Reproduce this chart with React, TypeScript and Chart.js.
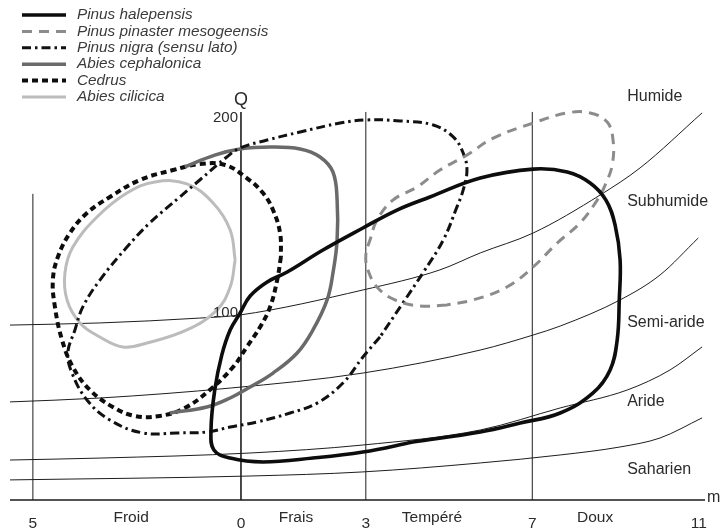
import React, { useEffect, useRef } from 'react';
import { Chart, registerables } from 'chart.js';

Chart.register(...registerables);

// ---- axes / ticks ----
const xTickValues = [-5, 0, 3, 7, 11];
const xTickLabels = ['5', '0', '3', '7', '11'];
const thermalZones = ['Froid', 'Frais', 'Tempéré', 'Doux'];
const thermalZoneCenters = [-2.64, 1.32, 4.59, 8.51];
const qTickValues = [100, 200];
const verticalLinesM = [-5, 0, 3, 7];
const verticalLinesTopQ = [161, 203, 203, 203];

// ---- bioclimatic zones ----
const zoneLabels = ['Humide', 'Subhumide', 'Semi-aride', 'Aride', 'Saharien'];
const zoneLabelQ = [210.7, 156.8, 94.8, 54.3, 19.4];
const zoneLabelM = 9.28;

const limitHumideM = [-5.55, -3.39, -0.99, -0.02, 2.93, 4.78, 5.75, 7.02, 8.63, 9.59, 11.08];
const limitHumideQ = [93.7, 94.8, 97.3, 98.9, 111.7, 122.0, 130.7, 140.9, 160.4, 174.3, 202.5];
const limitSubhumideM = [-5.55, -3.39, -0.26, 2.93, 5.75, 7.02, 7.67, 9.11, 10.07, 10.99];
const limitSubhumideQ = [54.3, 56.3, 61.4, 69.1, 80.9, 88.6, 93.2, 106.6, 119.4, 138.4];
const limitSemiAridM = [-5.55, -3.39, 0.22, 2.93, 5.75, 7.67, 9.28, 10.31, 11.08];
const limitSemiAridQ = [24.5, 25.5, 28.1, 32.2, 39.9, 51.2, 60.4, 70.7, 82.5];
const limitArideM = [-5.55, 0.22, 2.93, 5.75, 7.67, 9.11, 10.07, 11.08];
const limitArideQ = [14.3, 16.3, 18.4, 23.0, 27.1, 31.2, 35.8, 46.1];

// ---- species envelopes (m, Q) ----
const halepensisM = [4.13, 2.93, 1.73, 0.53, -0.26, -0.65, -0.72, -0.63, -0.46, -0.26, -0.02, 0.22, 0.63, 1.11, 1.97, 2.93, 3.75, 4.54, 5.75, 7.02, 7.84, 8.39, 8.77, 8.99, 9.11, 9.09, 9.04, 8.87, 8.46, 7.67, 6.71, 5.75];
const halepensisQ = [33.7, 28.6, 25.5, 23.5, 25.5, 29.6, 39.9, 60.4, 78.4, 91.2, 99.9, 108.6, 115.8, 120.9, 132.2, 143.5, 152.7, 159.4, 169.1, 173.7, 172.2, 166.6, 157.8, 145.0, 127.1, 106.6, 86.1, 70.7, 58.9, 48.6, 43.5, 38.9];

const pinasterM = [4.95, 4.30, 3.70, 3.29, 3.05, 3.00, 3.10, 3.27, 3.65, 4.23, 4.78, 5.43, 6.06, 7.02, 7.84, 8.39, 8.80, 8.94, 8.92, 8.75, 8.56, 8.15, 7.60, 7.02, 6.39, 5.58];
const pinasterQ = [104.0, 103.5, 106.6, 112.7, 121.9, 129.6, 137.3, 147.6, 157.8, 164.5, 173.2, 180.9, 189.6, 197.3, 202.5, 202.5, 197.8, 188.6, 175.8, 165.5, 157.8, 146.1, 135.8, 123.5, 113.2, 106.6];

const nigraM = [3.34, 2.93, 2.45, 1.83, 1.18, 0.38, -0.26, -0.82, -1.54, -2.36, -3.15, -3.70, -4.06, -4.16, -3.99, -3.80, -3.39, -2.74, -2.19, -1.47, -0.99, -0.34, -0.02, 0.63, 1.42, 2.38, 3.03, 3.82, 4.62, 5.10, 5.34, 5.43, 5.34, 5.19, 4.86, 4.37, 3.89];
const nigraQ = [87.6, 77.3, 64.0, 53.7, 48.6, 44.0, 41.4, 38.9, 38.4, 38.4, 45.0, 55.3, 69.1, 79.4, 91.2, 103.0, 116.8, 133.7, 146.1, 159.4, 168.1, 179.9, 184.5, 188.6, 192.7, 197.3, 198.9, 198.4, 196.3, 190.2, 181.9, 173.2, 163.0, 154.3, 137.3, 120.4, 105.0];

const cephalonicaM = [-1.35, -0.63, -0.02, 0.70, 1.42, 1.90, 2.21, 2.31, 2.31, 2.21, 2.07, 1.73, 1.35, 0.77, 0.22, -0.26, -0.82, -1.71];
const cephalonicaQ = [174.8, 180.9, 184.0, 185.0, 184.0, 179.9, 172.2, 157.8, 137.3, 120.4, 106.6, 91.2, 79.4, 69.1, 61.9, 56.3, 51.7, 48.6];

const cedrusM = [0.96, 0.87, 0.70, 0.46, 0.14, -0.19, -0.75, -1.35, -1.95, -2.55, -3.08, -3.63, -4.04, -4.30, -4.47, -4.52, -4.40, -4.11, -3.70, -3.15, -2.43, -1.63, -0.99, -0.38, 0.14, 0.53, 0.77, 0.94];
const cedrusQ = [128.6, 116.8, 103.0, 92.7, 82.5, 72.2, 60.4, 51.2, 47.1, 47.1, 51.7, 60.4, 72.2, 86.1, 103.0, 116.8, 128.6, 140.9, 151.2, 159.4, 168.1, 173.2, 176.3, 175.8, 169.1, 161.4, 152.7, 140.9];

const cilicicaM = [-0.14, -0.26, -0.58, -1.30, -2.26, -2.84, -3.39, -3.87, -4.18, -4.23, -4.04, -3.46, -2.74, -2.07, -1.30, -0.67, -0.26];
const cilicicaQ = [127.1, 113.2, 101.4, 91.2, 84.5, 82.5, 87.6, 94.8, 106.6, 120.4, 133.7, 149.1, 161.4, 167.1, 166.1, 156.3, 142.5];

const toPts = (xs: number[], ys: number[]) => xs.map((v, i) => ({ x: v, y: ys[i] }));
const closed = (xs: number[], ys: number[]) => {
  const p = toPts(xs, ys);
  return [...p, p[0]];
};

const FONT = '"Liberation Sans", Arial, sans-serif';
const TEXT = '#2b2b2b';

const overlayPlugin = {
  id: 'overlay',
  beforeDraw(chart: any) {
    const { ctx, width, height } = chart;
    ctx.save();
    ctx.fillStyle = '#ffffff';
    ctx.fillRect(0, 0, width, height);
    ctx.restore();
  },
  afterDatasetsDraw(chart: any) {
    const { ctx, chartArea } = chart;
    const x = chart.scales.x;
    const y = chart.scales.y;
    ctx.save();
    // horizontal axis
    ctx.strokeStyle = '#1a1a1a';
    ctx.lineWidth = 1.3;
    ctx.beginPath();
    ctx.moveTo(chartArea.left, chartArea.bottom);
    ctx.lineTo(chartArea.right, chartArea.bottom);
    ctx.stroke();

    ctx.fillStyle = TEXT;
    ctx.textBaseline = 'middle';
    ctx.font = `16px ${FONT}`;
    ctx.textAlign = 'left';
    ctx.fillText('m', chartArea.right + 2, chartArea.bottom - 2);

    // x tick labels and thermal zones
    ctx.font = `15.5px ${FONT}`;
    ctx.textAlign = 'center';
    xTickValues.forEach((v, i) => {
      ctx.fillText(xTickLabels[i], x.getPixelForValue(v), chartArea.bottom + 24);
    });
    thermalZones.forEach((t, i) => {
      ctx.fillText(t, x.getPixelForValue(thermalZoneCenters[i]), chartArea.bottom + 18);
    });

    // Q axis labels
    const x0 = x.getPixelForValue(0);
    ctx.font = `15px ${FONT}`;
    ctx.textAlign = 'right';
    qTickValues.forEach((v) => {
      ctx.fillText(String(v), x0 - 3, y.getPixelForValue(v));
    });
    ctx.font = `18px ${FONT}`;
    ctx.textAlign = 'center';
    ctx.fillText('Q', x0, y.getPixelForValue(203) - 12);

    // zone labels
    ctx.font = `16px ${FONT}`;
    ctx.textAlign = 'left';
    zoneLabels.forEach((t, i) => {
      ctx.fillText(t, x.getPixelForValue(zoneLabelM), y.getPixelForValue(zoneLabelQ[i]));
    });

    // legend
    const species = chart.data.datasets.filter((d: any) => d.isSpecies);
    ctx.font = `italic 15.3px ${FONT}`;
    species.forEach((d: any, i: number) => {
      const cy = 15 + i * 16.4;
      ctx.save();
      ctx.strokeStyle = d.borderColor;
      ctx.lineWidth = d.borderWidth;
      ctx.setLineDash(d.borderDash || []);
      ctx.beginPath();
      ctx.moveTo(22, cy);
      ctx.lineTo(66, cy);
      ctx.stroke();
      ctx.restore();
      ctx.fillStyle = '#3a3a3a';
      ctx.textAlign = 'left';
      ctx.fillText(d.label, 77, cy);
    });
    ctx.restore();
  },
};

export default function App() {
  const ref = useRef<HTMLCanvasElement | null>(null);

  useEffect(() => {
    if (!ref.current) return;
    const thin = (data: any[], label: string) => ({
      label,
      data,
      showLine: true,
      borderColor: '#1e1e1e',
      borderWidth: 1,
      pointRadius: 0,
      cubicInterpolationMode: 'monotone',
      tension: 0.4,
      fill: false,
    });
    const species = (label: string, data: any[], color: string, width: number, dash: number[]) => ({
      label,
      data,
      isSpecies: true,
      showLine: true,
      borderColor: color,
      borderWidth: width,
      borderDash: dash,
      borderCapStyle: 'butt',
      borderJoinStyle: 'round',
      pointRadius: 0,
      tension: 0.4,
      fill: false,
    });

    const verticals = verticalLinesM.map((m, i) => ({
      label: 'v' + m,
      data: [{ x: m, y: 4 }, { x: m, y: verticalLinesTopQ[i] }],
      showLine: true,
      borderColor: '#1e1e1e',
      borderWidth: m === 0 ? 1.6 : 1,
      pointRadius: 0,
      tension: 0,
      fill: false,
    }));

    const chart = new Chart(ref.current, {
      type: 'scatter',
      data: {
        datasets: [
          species('Pinus halepensis', closed(halepensisM, halepensisQ), '#0d0d0d', 3.6, []),
          species('Pinus pinaster mesogeensis', closed(pinasterM, pinasterQ), '#8c8c8c', 3, [10, 7]),
          species('Pinus nigra (sensu lato)', closed(nigraM, nigraQ), '#111111', 3, [9, 4, 2.5, 4]),
          species('Abies cephalonica', toPts(cephalonicaM, cephalonicaQ), '#6a6a6a', 3.5, []),
          species('Cedrus', closed(cedrusM, cedrusQ), '#0d0d0d', 4, [6, 4]),
          species('Abies cilicica', closed(cilicicaM, cilicicaQ), '#bcbcbc', 3, []),
          thin(toPts(limitHumideM, limitHumideQ), 'Humide'),
          thin(toPts(limitSubhumideM, limitSubhumideQ), 'Subhumide'),
          thin(toPts(limitSemiAridM, limitSemiAridQ), 'Semi-aride'),
          thin(toPts(limitArideM, limitArideQ), 'Aride'),
          ...verticals,
        ] as any,
      },
      options: {
        animation: false,
        responsive: false,
        devicePixelRatio: 1,
        layout: { padding: { left: 10, right: 15, top: 24, bottom: 29 } },
        scales: {
          x: { type: 'linear', min: -5.55, max: 11.15, display: false },
          y: { type: 'linear', min: 4, max: 248.1, display: false },
        },
        plugins: {
          legend: { display: false },
          tooltip: { enabled: false },
        },
        events: [],
      } as any,
      plugins: [overlayPlugin],
    });
    return () => chart.destroy();
  }, []);

  return (
    <div style={{ position: 'absolute', left: 0, top: 0, width: 720, height: 529 }}>
      <canvas ref={ref} width={720} height={529} style={{ display: 'block' }} />
    </div>
  );
}
